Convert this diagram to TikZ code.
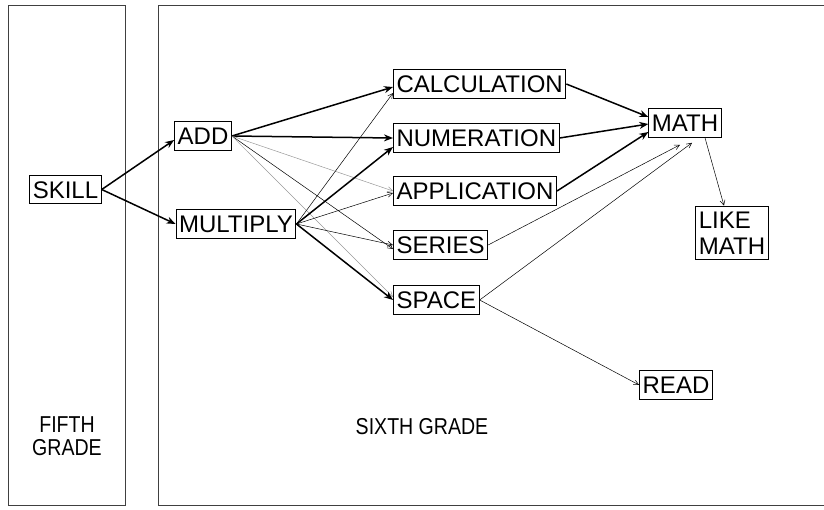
\documentclass[tikz,border=0pt]{standalone}
\usepackage{fontspec}
\setmainfont{Liberation Sans}
\newfontfamily\narrowfont[FakeStretch=0.85]{Liberation Sans}
\usetikzlibrary{arrows.meta}
\begin{document}
\begin{tikzpicture}[x=1pt,y=-1pt]
  \tikzset{
  box/.style={draw,line width=1.1pt,inner xsep=3pt,inner ysep=5.5pt,
    text height=17.5pt,text depth=0pt,font=\fontsize{24}{26}\selectfont},
  panel/.style={draw=black!75,line width=0.6pt},
  lbl/.style={font=\narrowfont\fontsize{23}{23}\selectfont,align=center,inner sep=0pt},
  strong/.style={line width=1.5pt,-{Stealth[length=9pt,width=7pt]}},
  weak/.style={line width=0.5pt,-{Straight Barb[length=5pt,width=5pt]}},
  faint/.style={weak,draw=black!40},
  }
  \useasboundingbox (0,0) rectangle (824,509);
  % the two grade panels
  \draw[panel] (8,5) rectangle (125,505);
  \draw[panel] (830,5) -- (158,5) -- (158,505) -- (830,505);
  \node[lbl] (fifth) at (67,436) {FIFTH\\GRADE};
  \node[lbl] (sixth) at (422,427) {SIXTH GRADE};

  % the boxes
  \node[box] (skill) at (65.5,189.5) {SKILL};
  \node[box] (add) at (203,136) {ADD};
  \node[box] (multiply) at (236,224) {MULTIPLY};
  \node[box,anchor=west] (calculation) at (393,84) {CALCULATION};
  \node[box,anchor=west] (numeration) at (393,138) {NUMERATION};
  \node[box,anchor=west] (application) at (393,191) {APPLICATION};
  \node[box,anchor=west] (series) at (393,245) {SERIES};
  \node[box,anchor=west] (space) at (393,300) {SPACE};
  \node[box] (math) at (685,123) {MATH};
  \node[box,text height=,align=left] (likemath) at (732,233) {LIKE\\MATH};
  \node[box] (read) at (676,385) {READ};

  % the arrows
  \draw[strong] (skill.east) -- ([yshift=-4pt]add.west);
  \draw[strong] (skill.east) -- (multiply.west);
  \draw[strong] (add.east) -- ([yshift=-3pt]calculation.west);
  \draw[strong] (add.east) -- (numeration.west);
  \draw[faint] (add.east) -- (application.west);
  \draw[weak] (add.east) -- ([yshift=-4pt]series.west);
  \draw[faint] (add.east) -- ([yshift=3pt]space.west);
  \draw[weak] (multiply.east) -- ([yshift=-9pt]calculation.west);
  \draw[strong] (multiply.east) -- ([yshift=-9pt]numeration.west);
  \draw[weak] (multiply.east) -- ([yshift=-2pt]application.west);
  \draw[weak] (multiply.east) -- (series.west);
  \draw[strong] (multiply.east) -- (space.west);
  \draw[strong] (calculation.east) -- ([yshift=6pt]math.west);
  \draw[strong] (numeration.east) -- ([yshift=-1pt]math.west);
  \draw[strong] (application.east) -- ([yshift=-9pt]math.west);
  \draw[weak] (series.east) -- ([xshift=-5pt,yshift=-7pt]math.south);
  \draw[weak] (space.east) -- ([xshift=7pt,yshift=-5pt]math.south);
  \draw[weak] ([xshift=20pt]math.south) -- ([xshift=-8pt]likemath.north);
  \draw[weak] (space.east) -- (read.west);
\end{tikzpicture}
\end{document}
